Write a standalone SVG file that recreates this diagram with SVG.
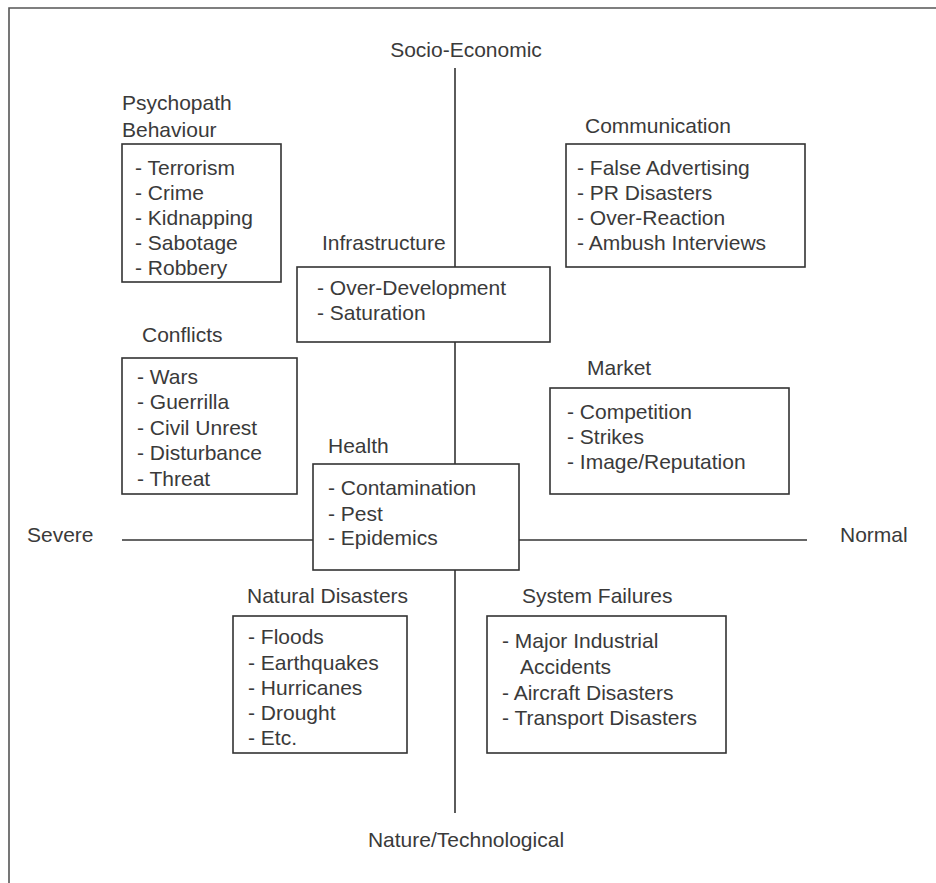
<svg xmlns="http://www.w3.org/2000/svg" width="936" height="883" viewBox="0 0 936 883">
<style>
text{font-family:"Liberation Sans",Arial,sans-serif;font-size:21px;fill:#3a3a3a}
.box{fill:#fff;stroke:#333;stroke-width:1.6}
.ax{stroke:#333;stroke-width:1.6;fill:none}
</style>
<rect width="936" height="883" fill="#fff"/>
<path d="M9,883 V8 H936" fill="none" stroke="#555" stroke-width="1.6"/>
<g id="connectors">
<line class="ax" x1="455" y1="68" x2="455" y2="813"/>
<line class="ax" x1="122" y1="540" x2="807" y2="540"/>
</g>
<g id="axis-labels">
<text x="466" y="57" text-anchor="middle">Socio-Economic</text>
<text x="466" y="847" text-anchor="middle">Nature/Technological</text>
<text x="27" y="542">Severe</text>
<text x="840" y="542">Normal</text>
</g>
<g id="psychopath">
<text x="122" y="110">Psychopath</text>
<text x="122" y="137">Behaviour</text>
<rect class="box" x="122" y="144" width="159" height="138"/>
<text x="135" y="175">- Terrorism</text>
<text x="135" y="200">- Crime</text>
<text x="135" y="225">- Kidnapping</text>
<text x="135" y="250">- Sabotage</text>
<text x="135" y="275">- Robbery</text>
</g>
<g id="communication">
<text x="585" y="133">Communication</text>
<rect class="box" x="566" y="144" width="239" height="123"/>
<text x="577" y="175">- False Advertising</text>
<text x="577" y="200">- PR Disasters</text>
<text x="577" y="225">- Over-Reaction</text>
<text x="577" y="250">- Ambush Interviews</text>
</g>
<g id="infrastructure">
<text x="322" y="250">Infrastructure</text>
<rect class="box" x="297" y="267" width="253" height="75"/>
<text x="317" y="295">- Over-Development</text>
<text x="317" y="320">- Saturation</text>
</g>
<g id="conflicts">
<text x="142" y="342">Conflicts</text>
<rect class="box" x="122" y="358" width="175" height="136"/>
<text x="137" y="384">- Wars</text>
<text x="137" y="409">- Guerrilla</text>
<text x="137" y="435">- Civil Unrest</text>
<text x="137" y="460">- Disturbance</text>
<text x="137" y="486">- Threat</text>
</g>
<g id="market">
<text x="587" y="375">Market</text>
<rect class="box" x="550" y="388" width="239" height="106"/>
<text x="567" y="419">- Competition</text>
<text x="567" y="444">- Strikes</text>
<text x="567" y="469">- Image/Reputation</text>
</g>
<g id="health">
<text x="328" y="453">Health</text>
<rect class="box" x="313" y="464" width="206" height="106"/>
<text x="328" y="495">- Contamination</text>
<text x="328" y="521">- Pest</text>
<text x="328" y="545">- Epidemics</text>
</g>
<g id="natural-disasters">
<text x="247" y="603">Natural Disasters</text>
<rect class="box" x="233" y="616" width="174" height="137"/>
<text x="248" y="644">- Floods</text>
<text x="248" y="670">- Earthquakes</text>
<text x="248" y="695">- Hurricanes</text>
<text x="248" y="720">- Drought</text>
<text x="248" y="745">- Etc.</text>
</g>
<g id="system-failures">
<text x="522" y="603">System Failures</text>
<rect class="box" x="487" y="616" width="239" height="137"/>
<text x="502" y="648">- Major Industrial</text>
<text x="520" y="674">Accidents</text>
<text x="502" y="700">- Aircraft Disasters</text>
<text x="502" y="725">- Transport Disasters</text>
</g>
</svg>
